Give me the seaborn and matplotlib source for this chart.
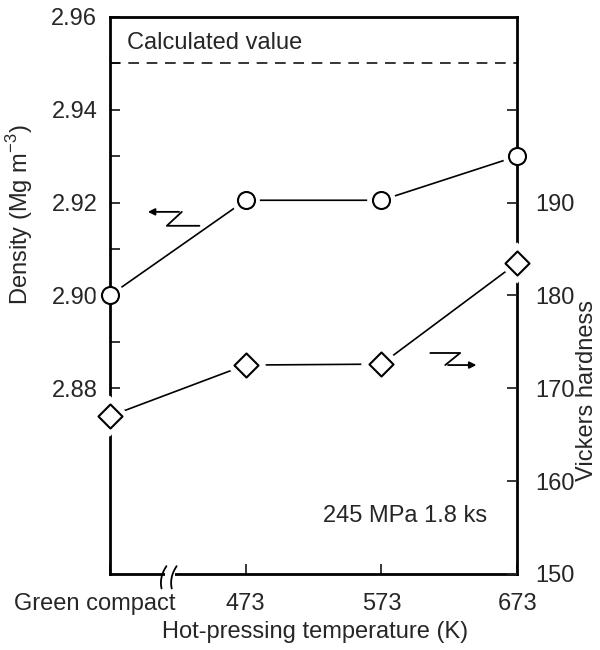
import numpy as np
import pandas as pd
import matplotlib
matplotlib.use("Agg")
import matplotlib.pyplot as plt
import seaborn as sns
from matplotlib.patches import Rectangle
from matplotlib.transforms import ScaledTranslation

# Data
CATEGORIES = ['Green compact', '473', '573', '673']
DENSITY = [2.900, 2.9205, 2.9205, 2.930]
HARDNESS = [167.0, 172.5, 172.6, 183.5]
CALC_DENSITY = 2.95

DENSITY_TICKS = [2.88, 2.89, 2.90, 2.91, 2.92, 2.93, 2.94, 2.95, 2.96]
DENSITY_LABELS = ['2.88', '', '2.90', '', '2.92', '', '2.94', '', '2.96']
HARDNESS_TICKS = [150, 160, 170, 180, 190, 200]
HARDNESS_LABELS = ['150', '160', '170', '180', '190', '']

sns.set_style('ticks')
plt.rcParams['font.family'] = ['Liberation Sans', 'DejaVu Sans']
plt.rcParams['mathtext.fontset'] = 'custom'
plt.rcParams['mathtext.rm'] = 'Liberation Sans'
FS = 17

df = pd.DataFrame({'pos': np.arange(len(CATEGORIES)), 'density': DENSITY, 'hardness': HARDNESS})

fig = plt.figure(figsize=(6, 6.5), dpi=100)
ax = fig.add_axes([0.183, 0.117, 0.679, 0.857])
ax2 = ax.twinx()

# Линии с разрывами у маркеров
sns.lineplot(data=df, x='pos', y='density', ax=ax, color='black', lw=1.2, zorder=1)
sns.scatterplot(data=df, x='pos', y='density', ax=ax, marker='o', s=420, color='white',
                edgecolor='none', zorder=2, clip_on=False)
sns.scatterplot(data=df, x='pos', y='density', ax=ax, marker='o', s=150, facecolor='white',
                edgecolor='black', linewidth=1.5, zorder=6, clip_on=False)

sns.lineplot(data=df, x='pos', y='hardness', ax=ax2, color='black', lw=1.2, zorder=1)
sns.scatterplot(data=df, x='pos', y='hardness', ax=ax2, marker='D', s=440, color='white',
                edgecolor='none', zorder=2, clip_on=False)
sns.scatterplot(data=df, x='pos', y='hardness', ax=ax2, marker='D', s=150, facecolor='white',
                edgecolor='black', linewidth=1.5, zorder=6, clip_on=False)

ax.axhline(CALC_DENSITY, color='black', lw=1.1, ls=(0, (7, 5)), zorder=1)

ax.set_xlim(0, 3)
ax.set_ylim(2.84, 2.96)
ax2.set_ylim(150, 210)

ax.set_xticks(range(len(CATEGORIES)))
ax.set_xticklabels(CATEGORIES, fontsize=FS)
ax.set_yticks(DENSITY_TICKS)
ax.set_yticklabels(DENSITY_LABELS, fontsize=FS)
ax2.set_yticks(HARDNESS_TICKS)
ax2.set_yticklabels(HARDNESS_LABELS, fontsize=FS)

ax.tick_params(axis='x', direction='in', length=7, width=1.3, pad=14)
ax.tick_params(axis='y', direction='in', length=7, width=1.3, pad=9)
ax2.tick_params(axis='y', direction='in', length=7, width=1.3, pad=13)

# сдвигаем подпись "Green compact" влево
lbl = ax.get_xticklabels()[0]
lbl.set_transform(lbl.get_transform() + ScaledTranslation(-0.15, 0, fig.dpi_scale_trans))

for sp in ax.spines.values():
    sp.set_visible(True)
    sp.set_linewidth(2)
    sp.set_color('black')
for sp in ax2.spines.values():
    sp.set_visible(False)

ax.set_xlabel('Hot-pressing temperature (K)', fontsize=FS)
ax.xaxis.set_label_coords(0.504, -0.085)
ax.set_ylabel(r'Density (Mg m$^{\mathregular{-3}}$)', fontsize=FS)
ax.yaxis.set_label_coords(-0.183, 0.645)
ax2.set_ylabel('Vickers hardness', fontsize=FS)
ax2.yaxis.set_label_coords(1.145, 0.33)

ax.text(0.13, 2.9544, 'Calculated value', fontsize=FS, ha='left', va='center')
ax.text(2.78, 2.8525, '245 MPa 1.8 ks', fontsize=FS, ha='right', va='center')

# зигзагообразные стрелки-указатели осей
ax.annotate('', xy=(0.26, 2.918), xytext=(0.53, 2.918),
            arrowprops=dict(arrowstyle='-|>', color='black', lw=1.3, mutation_scale=10))
ax.plot([0.53, 0.42, 0.66], [2.918, 2.915, 2.915], color='black', lw=1.3)
ax.plot([2.36, 2.58, 2.47], [2.8876, 2.8876, 2.885], color='black', lw=1.3)
ax.annotate('', xy=(2.72, 2.885), xytext=(2.47, 2.885),
            arrowprops=dict(arrowstyle='-|>', color='black', lw=1.3, mutation_scale=10))

# разрыв оси x
ax.add_patch(Rectangle((0.135, -0.01), 0.025, 0.02, transform=ax.transAxes,
                       facecolor='white', edgecolor='none', clip_on=False, zorder=5))
t = np.linspace(-1, 1, 20)
for x0 in (0.133, 0.158):
    ax.plot(x0 + 0.006 * t - 0.006 * (1 - t ** 2), 0.02 * t - 0.006,
            transform=ax.transAxes, color='black', lw=1.3, clip_on=False, zorder=6)

fig.savefig('out.png', dpi=100)
